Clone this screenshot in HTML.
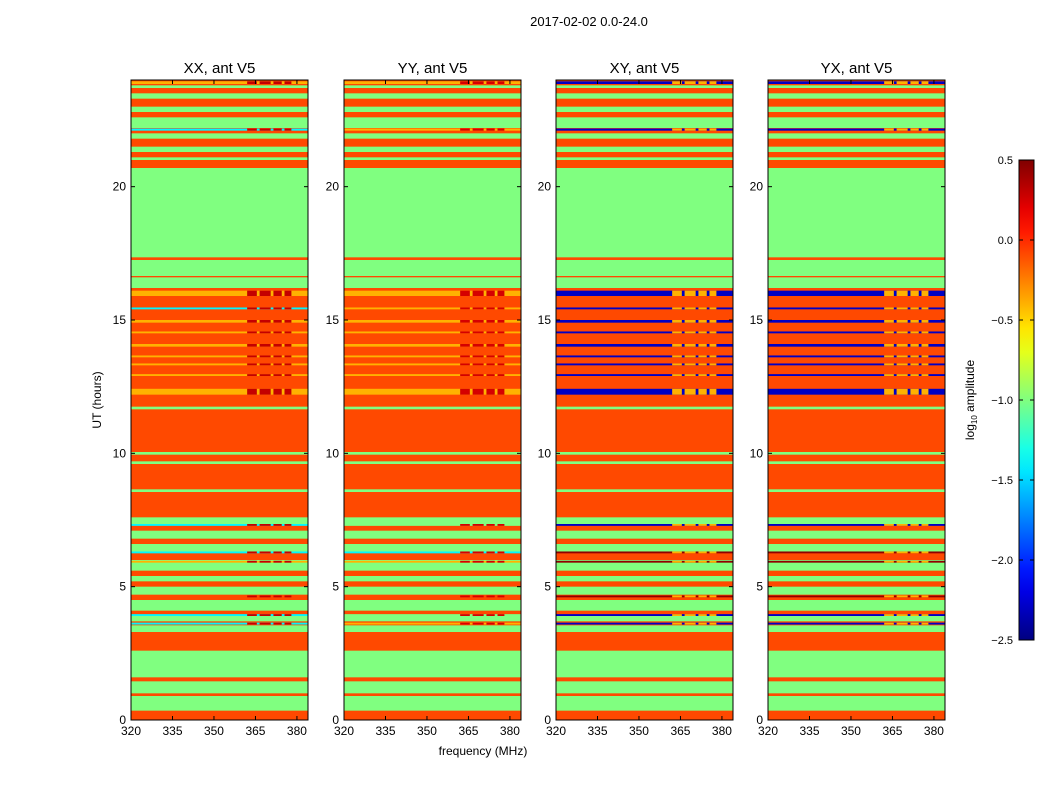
<!DOCTYPE html>
<html><head><meta charset="utf-8"><style>
body{margin:0;background:#fff;font-family:"Liberation Sans",sans-serif}
svg text{font-family:"Liberation Sans","DejaVu Sans",sans-serif}
</style></head><body>
<svg id="fig" width="1050" height="800" viewBox="0 0 1050 800" xmlns="http://www.w3.org/2000/svg">
<rect width="1050" height="800" fill="#fff"/>
<text x="589" y="26" font-size="13" text-anchor="middle">2017-02-02 0.0-24.0</text>
<text x="483" y="755" font-size="12" text-anchor="middle">frequency (MHz)</text>
<text transform="translate(101,400) rotate(-90)" font-size="12" text-anchor="middle">UT (hours)</text>
<g id="panels"></g>
<defs><linearGradient id="cbg" x1="0" y1="1" x2="0" y2="0"></linearGradient></defs>
<g id="cbar"></g>
</svg>
<script>
const panelTitles=["XX, ant V5","YY, ant V5","XY, ant V5","YX, ant V5"];
const xTicks=[320,335,350,365,380];
const yTicks=[0,5,10,15,20];
const cbTicks=[0.5,0.0,-0.5,-1.0,-1.5,-2.0,-2.5];
const baseValue=-0.09;
const greenBands=[[0.35,0.9],[1.0,1.45],[1.6,2.6],[3.3,3.55],[3.7,3.9],[4.1,4.5],[4.7,5.0],[5.2,5.4],[5.6,6.0],[6.3,6.6],[6.8,7.1],[7.3,7.6],[8.55,8.65],[9.6,9.7],[9.95,10.05],[11.65,11.75],[16.2,16.6],[16.65,17.25],[17.35,20.7],[21.0,21.1],[21.3,21.5],[21.8,22.0],[22.2,22.6],[22.8,23.0],[23.3,23.5],[23.7,23.8]];
const stripeTimes=[[3.58,3.65],[3.9,3.97],[4.6,4.67],[5.9,5.97],[6.25,6.32],[7.28,7.35],[12.2,12.42],[12.9,12.97],[13.3,13.37],[13.6,13.67],[14.0,14.1],[14.5,14.57],[14.9,15.0],[15.4,15.47],[15.9,16.1],[22.1,22.18],[23.85,23.95]];
const stripeValues=[
 [-1.4,-1.4,-0.09,-0.4,-1.4,-1.4,-0.4,-0.4,-0.4,-0.4,-0.4,-0.4,-0.4,-1.4,-0.4,-1.4,-0.4],
 [-0.4,-1.0,-0.09,-0.4,-1.4,-1.0,-0.4,-0.4,-0.4,-0.4,-0.4,-0.4,-0.4,-0.4,-0.4,-0.4,-0.4],
 [-2.3,-2.3,0.45,0.45,0.45,-2.3,-2.3,-2.3,-2.3,-2.3,-2.3,-2.3,-2.3,-2.3,-2.3,-2.3,-2.3],
 [-2.3,-2.3,0.45,0.45,0.45,-2.3,-2.3,-2.3,-2.3,-2.3,-2.3,-2.3,-2.3,-2.3,-2.3,-2.3,-2.3]];
const speckleValues=[0.3,0.25,-0.4,-0.4];
const speckleFreqs=[[362,365.5],[366.5,370.5],[371.5,374.5],[375.5,378]];
const xMin=320,xMax=384,yMin=0,yMax=24;
const panelLefts=[131,344,556,768];const pw=177,pTop=80,pBot=720;
const NS="http://www.w3.org/2000/svg";
function jet(v){let x=(v+2.5)/3;x=Math.max(0,Math.min(1,x));
 const f=t=>Math.max(0,Math.min(1,t));
 const r=f(Math.min(4*x-1.5,-4*x+4.5)),g=f(Math.min(4*x-0.5,-4*x+3.5)),b=f(Math.min(4*x+0.5,-4*x+2.5));
 return `rgb(${Math.round(r*255)},${Math.round(g*255)},${Math.round(b*255)})`;}
function mk(tag,attrs,parent){const e=document.createElementNS(NS,tag);for(const k in attrs)e.setAttribute(k,attrs[k]);parent.appendChild(e);return e;}
const panels=document.getElementById('panels');
panelTitles.forEach((title,p)=>{
 const L=panelLefts[p];
 const sx=f=>L+(f-xMin)/(xMax-xMin)*pw;
 const sy=t=>pBot-(t-yMin)/(yMax-yMin)*(pBot-pTop);
 const g=mk('g',{},panels);
 
 
 const bg=mk('rect',{x:L,y:pTop,width:pw,height:pBot-pTop,fill:jet(baseValue)},g);
 
 
 greenBands.forEach(b=>{const r=mk('rect',{x:L,y:sy(b[1]),width:pw,height:sy(b[0])-sy(b[1]),fill:jet(-1.0)},g);
  
  });
 stripeTimes.forEach((s,i)=>{const r=mk('rect',{x:L,y:sy(s[1]),width:pw,height:Math.max(1,sy(s[0])-sy(s[1])),fill:jet(stripeValues[p][i])},g);
  
  
  speckleFreqs.forEach(fr=>{const q=mk('rect',{x:sx(fr[0]),y:sy(s[1]),width:sx(fr[1])-sx(fr[0]),height:Math.max(1,sy(s[0])-sy(s[1])),fill:jet(speckleValues[p])},g);
   
   });});
 const fr=mk('rect',{x:L,y:pTop,width:pw,height:pBot-pTop,fill:'none',stroke:'#000','stroke-width':1},g);
 
 
 const t=mk('text',{x:L+pw/2,y:pTop-7,'font-size':15,'text-anchor':'middle'},g);t.textContent=title;
 
 
 xTicks.forEach(v=>{const x=sx(v);
  mk('line',{x1:x,x2:x,y1:pBot,y2:pBot-4,stroke:'#000'},g);mk('line',{x1:x,x2:x,y1:pTop,y2:pTop+4,stroke:'#000'},g);
  const tx=mk('text',{x:x,y:pBot+15,'font-size':12,'text-anchor':'middle'},g);tx.textContent=v;
  
  });
 yTicks.forEach(v=>{const y=sy(v);
  mk('line',{x1:L,x2:L+4,y1:y,y2:y,stroke:'#000'},g);mk('line',{x1:L+pw,x2:L+pw-4,y1:y,y2:y,stroke:'#000'},g);
  const ty=mk('text',{x:L-5,y:y+4,'font-size':12,'text-anchor':'end'},g);ty.textContent=v;
  
  });
});
// colorbar
const grad=document.getElementById('cbg');
for(let i=0;i<=20;i++){const v=-2.5+3*i/20;mk('stop',{offset:(i/20),'stop-color':jet(v)},grad);}
const cb=document.getElementById('cbar');
const cL=1019,cW=15,cT=160,cB=640;
const cy=v=>cB-(v+2.5)/3*(cB-cT);
mk('rect',{x:cL,y:cT,width:cW,height:cB-cT,fill:'url(#cbg)',stroke:'#000'},cb);
cbTicks.forEach(v=>{const y=cy(v);
 mk('line',{x1:cL,x2:cL+4,y1:y,y2:y,stroke:'#000'},cb);mk('line',{x1:cL+cW,x2:cL+cW-4,y1:y,y2:y,stroke:'#000'},cb);
 const t=mk('text',{x:cL-6,y:y+4,'font-size':11,'text-anchor':'end'},cb);t.textContent=(v<0?'\u2212':'')+Math.abs(v).toFixed(1);
 
 });
const cl=mk('text',{transform:'translate(974,400) rotate(-90)','font-size':12,'text-anchor':'middle'},cb);


cl.innerHTML='log<tspan font-size="8" dy="3">10</tspan><tspan dy="-3"> amplitude</tspan>';
</script>
</body></html>
